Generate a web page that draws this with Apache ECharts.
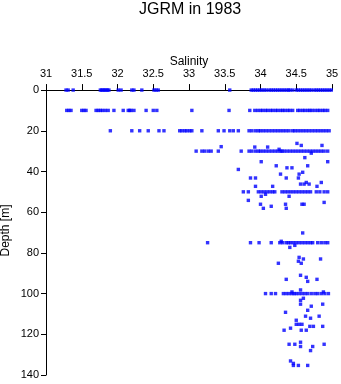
<!DOCTYPE html>
<html>
<head>
<meta charset="utf-8">
<script src="https://cdn.jsdelivr.net/npm/echarts@6/dist/echarts.min.js"></script>
<style>html,body{margin:0;padding:0;background:#fff}#c{width:341px;height:384px}</style>
</head>
<body>
<div id="c"></div>
<script>
// Salinity values at the main sampling depths
const sal0 = [31.28,31.31,31.38,31.76,31.78,31.80,31.82,31.84,31.86,31.88,32.01,32.05,32.20,32.23,32.34,32.51,32.54,32.57,33.57,
  33.87,33.90,33.93,33.96,33.99,34.02,34.05,34.08,34.12,34.15,34.18,34.21,34.24,34.27,34.30,34.33,34.36,34.39,34.41,34.45,
  34.50,34.53,34.56,34.59,34.62,34.65,34.68,34.71,34.75,34.78,34.81,34.84,34.87,34.90,34.93,34.96,34.99];
const sal10 = [31.29,31.32,31.35,31.50,31.53,31.56,31.70,31.73,31.76,31.79,31.83,31.87,31.95,32.08,32.15,32.17,32.19,32.23,32.40,32.50,32.55,
  33.04,33.56,33.85,33.92,33.96,34.00,34.03,34.07,34.10,34.14,34.17,34.21,34.24,34.28,34.31,34.34,34.38,34.41,34.45,
  34.52,34.55,34.59,34.62,34.66,34.69,34.72,34.76,34.80,34.83,34.87,34.90,34.94];
const sal20 = [31.90,32.20,32.31,32.43,32.58,32.65,32.87,32.90,32.94,32.97,33.01,33.04,33.18,33.41,33.49,33.57,33.62,33.69,
  33.84,33.88,33.93,33.97,34.00,34.04,34.08,34.12,34.16,34.20,34.24,34.28,34.32,34.36,34.40,34.45,34.48,34.52,34.56,34.60,
  34.64,34.68,34.72,34.76,34.80,34.84,34.88,34.92,34.96];
const sal30 = [33.10,33.18,33.22,33.27,33.31,33.41,33.73,33.84,33.88,33.93,33.97,34.00,34.04,34.08,34.12,34.16,34.20,34.24,34.28,
  34.30,34.33,34.37,34.41,34.45,34.49,34.53,34.57,34.61,34.65,34.69,34.73,34.77,34.81,34.85,34.89,34.94];
const sal50 = [33.76,33.83,33.97,34.01,34.05,34.09,34.13,34.17,34.20,34.30,34.34,34.38,34.42,34.46,34.50,34.54,34.58,34.62,34.66,34.70,
  34.78,34.83,34.89,34.94];
const sal75 = [33.26,33.86,33.98,34.15,34.27,34.31,34.36,34.39,34.42,34.46,34.50,34.54,34.58,34.62,34.66,34.70,34.73,34.80,34.85,34.90,34.94];
const sal100 = [34.07,34.15,34.21,34.32,34.36,34.40,34.44,34.47,34.50,34.54,34.58,34.62,34.66,34.71,34.76,34.80,34.85,34.90,34.95];
// Other individual [salinity, depth] samples
const otherPoints = [
  [33.45,27.8],[33.92,28],[34.10,28],[34.26,29.1],[34.51,26.2],[34.57,27.2],[34.71,31],[34.86,27.2],[34.62,33.2],[34.01,35.2],
  [34.22,37.2],[34.37,38.2],[34.44,38.2],[34.66,37.2],[34.94,35.2],[33.69,39],
  [33.86,43.2],[33.93,43.2],[34.28,41.3],[34.36,43.2],[34.54,41.3],[34.59,40.4],[34.53,43.2],[34.56,46.2],[34.64,45.4],[34.61,46.2],
  [34.68,46.2],[34.85,45.4],[34.79,47.3],[33.93,47.3],[34.17,47.3],
  [34.07,51.2],[34.01,52.2],[34.40,52.2],[33.83,54.2],[34.00,56.1],[34.15,57.1],[34.35,56.1],[34.58,56.1],[34.61,56.1],[34.89,55.2],
  [34.04,58.1],[34.36,58.1],
  [34.59,70.2],[34.29,74.3],[34.41,77.3],[34.48,76.3],[34.54,82.2],[34.60,83],[34.84,83],
  [34.53,84.1],[34.57,85.1],[34.25,85.1],[34.56,91],[34.64,92],[34.36,93],[34.79,93],[34.66,94],[34.56,98.2],[34.44,99.2],[34.88,99.2],
  [34.60,102.3],[34.56,103.3],[34.56,105.2],[34.87,105.2],[34.71,106.2],[34.66,108.2],[34.35,109.2],[34.63,111.1],[34.82,111.1],
  [34.70,112.1],[34.50,113.1],[34.50,115.1],[34.54,115.1],[34.58,115.1],[34.69,116.1],[34.74,116.1],[34.87,116.1],[34.42,117],
  [34.33,118],[34.57,118],[34.64,118],
  [34.56,123.9],[34.40,124.9],[34.48,124.9],[34.89,124.9],[34.56,126],[34.73,126],[34.70,128],[34.42,133.1],[34.46,134.3],
  [34.46,135.3],[34.53,135.3],[34.66,135.3]
];
const depthTicks = [0,20,40,60,80,100,120,140];
const salTicks = [31,31.5,32,32.5,33,33.5,34,34.5,35];

const levels = [[0,sal0],[10,sal10],[20,sal20],[30,sal30],[50,sal50],[75,sal75],[100,sal100]];
const data = [];
levels.forEach(([d, arr]) => arr.forEach(s => data.push([s, d])));
otherPoints.forEach(p => data.push(p));

const font = 'Liberation Sans, Arial, Helvetica, sans-serif';
const chart = echarts.init(document.getElementById('c'), null, {renderer: 'canvas'});
chart.setOption({
  animation: false,
  title: {
    text: 'JGRM in 1983', left: 139, top: 2, padding: 0,
    textStyle: {fontFamily: font, fontSize: 16, fontWeight: 'normal', color: '#000'}
  },
  grid: {left: 46, right: 9, top: 86, bottom: 9, containLabel: false, outerBoundsMode: 'none'},
  xAxis: {
    type: 'value', position: 'top', min: 31, max: 35, interval: 0.5,
    name: 'Salinity', nameLocation: 'middle', nameGap: 18, nameMoveOverlap: false,
    nameTextStyle: {fontFamily: font, fontSize: 12, color: '#000'},
    axisLine: {onZero: true, lineStyle: {color: '#000', width: 1}},
    axisTick: {show: true, length: 6, lineStyle: {color: '#000'}, customValues: salTicks},
    axisLabel: {fontFamily: font, fontSize: 11, color: '#000', margin: 7, customValues: salTicks},
    splitLine: {show: false}
  },
  yAxis: {
    type: 'value', inverse: true, min: -2, max: 140,
    name: 'Depth [m]', nameLocation: 'middle', nameGap: 34, nameRotate: 90, nameMoveOverlap: false,
    nameTextStyle: {fontFamily: font, fontSize: 12, color: '#000'},
    axisLine: {onZero: false, lineStyle: {color: '#000', width: 1}},
    axisTick: {show: true, length: 5, lineStyle: {color: '#000'}, customValues: depthTicks},
    axisLabel: {fontFamily: font, fontSize: 11, color: '#000', margin: 7, customValues: depthTicks},
    splitLine: {show: false}
  },
  series: [{
    type: 'scatter', data: data, symbol: 'rect', symbolSize: 3.4,
    itemStyle: {color: '#0000ff'}, clip: false
  }]
});
</script>
</body>
</html>
